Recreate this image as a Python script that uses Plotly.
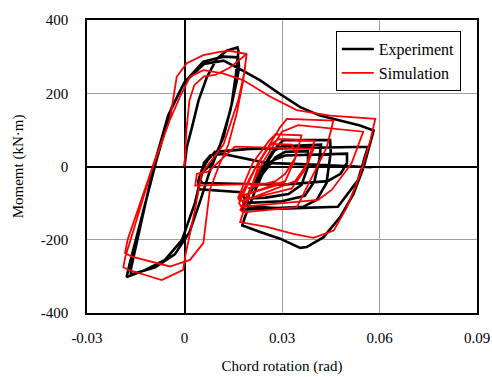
import plotly.graph_objects as go

# Experiment (black) hysteresis path: chord rotation (rad), moment (kN·m)
exp_x = [0.0, 0.0007, 0.0023, 0.0043, 0.0069, 0.0099, 0.013, 0.0163,
         0.0166, 0.0158, 0.0145, 0.012, 0.0085, 0.0054, 0.0032, -0.0008, -0.006, -0.0122, -0.0178,
         -0.017, -0.0086, -0.004, 0.0, 0.0058, 0.012, 0.0165,
         0.0168, 0.0160, 0.0140, 0.011, 0.0075, 0.005, 0.0015, -0.003, -0.009, -0.0165,
         -0.0165, -0.0095, -0.005, 0.0, 0.006, 0.012,
         0.0171, 0.0233, 0.0294, 0.0356, 0.0417, 0.0479, 0.054, 0.0582,
         0.0571, 0.0551, 0.052, 0.0479, 0.0428, 0.0376, 0.0356, 0.0294, 0.0233, 0.0178,
         0.0185, 0.022, 0.026, 0.0285, 0.0304, 0.0448, 0.0450, 0.0437, 0.0407, 0.0365, 0.025, 0.0176,
         0.019, 0.023, 0.027, 0.030, 0.042, 0.0415, 0.040, 0.037, 0.030, 0.018,
         0.0195, 0.024, 0.028, 0.031, 0.038, 0.038, 0.036, 0.032, 0.025, 0.0185,
         0.0175, 0.0045, 0.0042, 0.0053, 0.0072, 0.0094, 0.020, 0.0565, 0.0555, 0.0534, 0.0472, 0.030, 0.019,
         0.020, 0.024, 0.028, 0.031, 0.050, 0.050, 0.048, 0.044, 0.030, 0.0055, 0.0048, 0.0060, 0.0080, 0.012,
         0.025, 0.0397, 0.050, 0.0576]
exp_y = [0, 53, 107, 180, 244, 294, 316, 325,
         315, 250, 170, 80, 10, -18, -100, -201, -255, -283, -302,
         -270, 18, 160, 230, 286, 300, 298,
         270, 230, 150, 60, -20, -90, -180, -240, -275, -295,
         -280, 0, 140, 230, 280, 289,
         266, 235, 198, 162, 139, 125, 112, 98,
         62, -2, -75, -138, -193, -220, -222, -197, -179, -161,
         -140, -60, 20, 55, 72, 72, 40, -45, -91, -110, -115, -118,
         -90, -20, 40, 55, 60, 20, -40, -80, -95, -100,
         -80, -20, 25, 40, 42, 0, -50, -75, -85, -88,
         -70, -62, -40, -10, 18, 40, 48, 54, 27, -37, -110, -115, -108,
         -70, 0, 20, 30, 35, 10, -20, -40, -50, -45, -37, 10, 31, 34,
         10, 5, 0, -2]

# Simulation (red) hysteresis path
sim_x = [0.0, 0.0006, 0.0015, 0.003, 0.006, 0.0095, 0.014, 0.0191,
         0.0181, 0.0161, 0.0135, 0.0105, 0.0078, 0.0068, 0.0058, 0.0017, -0.0045, -0.0162, -0.0183,
         -0.0175, -0.0091, -0.0045, -0.0024, 0.0007, 0.0058, 0.0109, 0.014, 0.0191,
         0.0185, 0.0165, 0.012, 0.0053, 0.0032, 0.0002, -0.0004, -0.007, -0.0173, -0.0188,
         -0.0183, -0.0101, -0.0045, -0.0014, 0.0017, 0.0058, 0.0118, 0.018, 0.0263, 0.0345, 0.0448, 0.0587,
         0.0572, 0.0541, 0.050, 0.0459, 0.0397, 0.0335, 0.0253, 0.0171,
         0.0233, 0.0294, 0.0315, 0.0458, 0.0438, 0.0387, 0.0346, 0.018, 0.0172,
         0.024, 0.030, 0.035, 0.055, 0.0514, 0.0453, 0.0411, 0.0309, 0.0175,
         0.0168, 0.022, 0.0265, 0.029, 0.040, 0.037, 0.033, 0.017,
         0.0165, 0.021, 0.026, 0.028, 0.036, 0.034, 0.031, 0.0175,
         0.0309, 0.010, 0.0033, 0.0038, 0.0073, 0.0155, 0.0397, 0.038, 0.034, 0.018,
         0.0168, 0.022, 0.0255, 0.027, 0.033, 0.0345, 0.031, 0.028, 0.0195]
sim_y = [0, 100, 180, 222, 246, 250, 270, 307,
         236, 146, 60, 0, -64, -137, -209, -255, -273, -246, -236,
         -200, 18, 127, 245, 282, 304, 313, 316, 307,
         260, 180, 60, -18, -119, -246, -282, -310, -282, -275,
         -250, -10, 127, 190, 245, 263, 254, 236, 191, 154, 139, 130,
         71, -20, -111, -175, -195, -184, -165, -152,
         16, 107, 130, 125, 53, -38, -111, -125, -118,
         10, 95, 113, 95, 9, -64, -91, -100, -110,
         -100, 0, 60, 75, 70, -10, -60, -95,
         -85, 10, 70, 88, 85, 20, -40, -80,
         -45, -50, -52, -20, -14, 54, 48, 10, -40, -95,
         -88, 0, 50, 62, 60, 30, -20, -40, -60]

x_ticks = [-0.03, 0, 0.03, 0.06, 0.09]
x_tick_text = ["-0.03", "0", "0.03", "0.06", "0.09"]
y_ticks = [-400, -200, 0, 200, 400]
y_tick_text = ["-400", "-200", "0", "200", "400"]

FONT = "Liberation Serif"

fig = go.Figure()
fig.add_trace(go.Scatter(x=exp_x, y=exp_y, mode="lines", name="Experiment",
                         line=dict(color="#000000", width=2.6)))
fig.add_trace(go.Scatter(x=sim_x, y=sim_y, mode="lines", name="Simulation",
                         line=dict(color="#ff0000", width=1.8)))

fig.update_layout(
    width=492, height=377,
    margin=dict(l=87, r=15, t=20, b=64, autoexpand=False),
    paper_bgcolor="white", plot_bgcolor="white",
    font=dict(family=FONT, size=15, color="black"),
    showlegend=True,
    legend=dict(x=0.638, y=0.962, xanchor="left", yanchor="top",
                bgcolor="white", bordercolor="black", borderwidth=1,
                font=dict(family=FONT, size=16, color="black"),
                itemwidth=32, tracegroupgap=2),
    xaxis=dict(range=[-0.03, 0.09], tickvals=x_ticks, ticktext=x_tick_text,
               automargin=False,
               showgrid=True, gridcolor="#a0a0a0", gridwidth=1.3,
               zeroline=True, zerolinecolor="black", zerolinewidth=2,
               showline=True, linecolor="black", linewidth=1.5, mirror=True,
               ticks="", ticklabelstandoff=10,
               title=dict(text="Chord rotation (rad)", standoff=16,
                          font=dict(family=FONT, size=15))),
    yaxis=dict(range=[-400, 400], tickvals=y_ticks, ticktext=y_tick_text,
               automargin=False,
               showgrid=True, gridcolor="#a0a0a0", gridwidth=1.3,
               zeroline=True, zerolinecolor="black", zerolinewidth=1.5,
               showline=True, linecolor="black", linewidth=1.5, mirror=True,
               ticks="", ticklabelstandoff=14,
               title=dict(text="Momemt (kN·m)", standoff=14,
                          font=dict(family=FONT, size=15))),
)

fig.write_html("out.html", config={"displayModeBar": False},
               post_script="document.body.style.margin='0';document.body.style.overflow='hidden';")
